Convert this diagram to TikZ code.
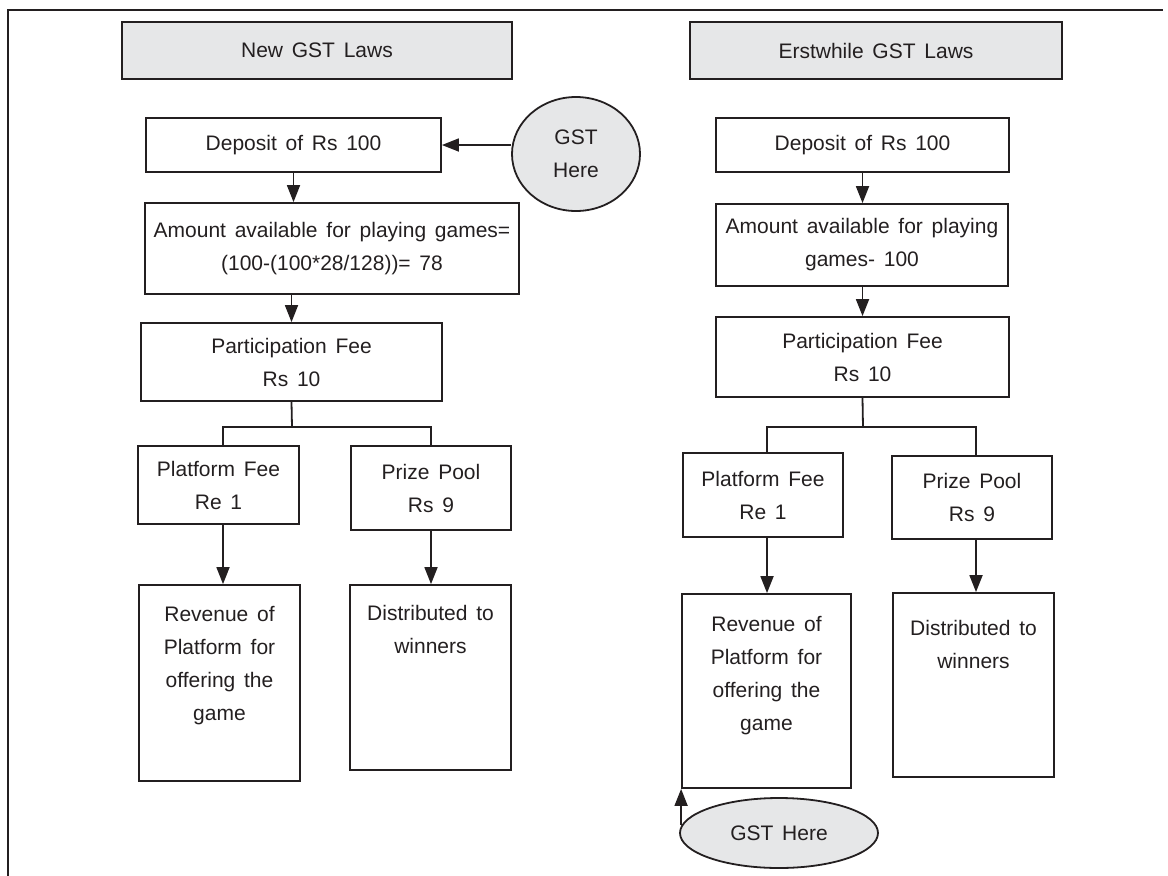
\documentclass[tikz,border=0pt]{standalone}
\usepackage{fontspec}
\setmainfont{Liberation Sans}[WordSpace=1.5]
\usetikzlibrary{arrows.meta,shapes.geometric,calc}
\definecolor{ink}{HTML}{231F20}
\definecolor{panel}{HTML}{E6E7E8}
\newcommand\diagfont{\fontsize{21}{33}\selectfont}

\begin{document}
\begin{tikzpicture}[x=1pt,y=-1pt,
  box/.style={draw=ink, line width=1.8pt, inner sep=0pt, align=center,
              font=\diagfont, text=ink},
  headbox/.style={box, fill=panel},
  bubble/.style={box, ellipse, fill=panel},
  txt/.style={inner sep=0pt, align=center, font=\diagfont, text=ink},
  arr/.style={draw=ink, line width=1.8pt, -{Triangle[length=17pt,width=13pt]}},
  link/.style={draw=ink, line width=1.8pt}]

\useasboundingbox (0,0) rectangle (1168,876);

% partial outer frame
\draw[link, line width=2pt] (8,876) -- (8,10) -- (1163,10);

% ---------- left column: new GST laws ----------
\node[headbox, minimum width=390, minimum height=57] (hdr1) at (317,50.5) {New GST Laws};
\node[box, minimum width=295, minimum height=54] (dep1) at (293.5,145) {Deposit of Rs 100};
\node[bubble, minimum width=128, minimum height=114] (gst1) at (576,154) {GST\\Here};
\node[box, minimum width=374, minimum height=91] (amt1) at (332,248.5)
  {Amount available for playing games=\\(100-(100*28/128))= 78};
\node[box, minimum width=301, minimum height=78] (part1) at (291.5,362)
  {Participation Fee\\Rs 10};
\node[box, minimum width=161, minimum height=78] (plat1) at (218.5,485)
  {Platform Fee\\Re 1};
\node[box, minimum width=160, minimum height=84] (prize1) at (431,488)
  {Prize Pool\\Rs 9};
\node[box, minimum width=161, minimum height=196] (rev1) at (219.5,683) {};
\node[txt, anchor=north] (trev1) at (219.5,606)
  {Revenue of\\Platform for\\offering the\\game};
\node[box, minimum width=161, minimum height=185] (dist1) at (430.5,677.5) {};
\node[txt, anchor=north] (tdist1) at (430.5,605) {Distributed to\\winners};

\coordinate (j1) at (292,427);
\coordinate (j1l) at (223,427);
\coordinate (j1r) at (431,427);

\draw[arr] (gst1.west |- dep1.east) -- (dep1.east);
\draw[arr] (dep1.south) -- (dep1.south |- amt1.north);
\draw[arr] (part1.north |- amt1.south) -- (part1.north);
\draw[link] (part1.south) -- (j1);
\draw[link] (j1l |- plat1.north) -- (j1l) -- (j1r) -- (j1r |- prize1.north);
\draw[arr] (j1l |- plat1.south) -- (j1l |- rev1.north);
\draw[arr] (j1r |- prize1.south) -- (j1r |- dist1.north);

% ---------- right column: erstwhile GST laws ----------
\node[headbox, minimum width=372, minimum height=57] (hdr2) at (876,50.5) {Erstwhile GST Laws};
\node[box, minimum width=293, minimum height=54] (dep2) at (862.5,145) {Deposit of Rs 100};
\node[box, minimum width=292, minimum height=82] (amt2) at (862,245)
  {Amount available for playing\\games- 100};
\node[box, minimum width=293, minimum height=80] (part2) at (862.5,357)
  {Participation Fee\\Rs 10};
\node[box, minimum width=160, minimum height=84] (plat2) at (763,495)
  {Platform Fee\\Re 1};
\node[box, minimum width=160, minimum height=83] (prize2) at (972,497.5)
  {Prize Pool\\Rs 9};
\node[box, minimum width=169, minimum height=194] (rev2) at (766.5,691) {};
\node[txt, anchor=north] (trev2) at (766.5,616)
  {Revenue of\\Platform for\\offering the\\game};
\node[box, minimum width=161, minimum height=184] (dist2) at (973.5,685) {};
\node[txt, anchor=north] (tdist2) at (973.5,620) {Distributed to\\winners};
\node[bubble, minimum width=198, minimum height=70] (gst2) at (779,833) {GST Here};

\coordinate (j2) at (863,427);
\coordinate (j2l) at (767,427);
\coordinate (j2r) at (976,427);

\draw[arr] (dep2.south) -- (dep2.south |- amt2.north);
\draw[arr] (dep2.south |- amt2.south) -- (dep2.south |- part2.north);
\draw[link] (part2.south) -- (j2);
\draw[link] (j2l |- plat2.north) -- (j2l) -- (j2r) -- (j2r |- prize2.north);
\draw[arr] (j2l |- plat2.south) -- (j2l |- rev2.north);
\draw[arr] (j2r |- prize2.south) -- (j2r |- dist2.north);
\draw[arr] (rev2.south west |- gst2.175) -- (rev2.south west);

\end{tikzpicture}
\end{document}
